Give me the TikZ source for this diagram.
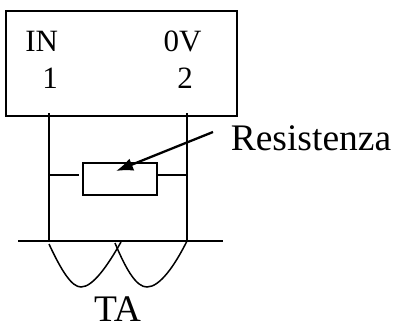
\documentclass[tikz,border=0pt]{standalone}
\usepackage{fontspec}
\setmainfont{Liberation Serif}
\usetikzlibrary{arrows.meta}
\tikzset{
  wire/.style={line width=1.5pt,black},
  curvewire/.style={line width=1.5pt,black},
  boxed/.style={draw=black,line width=1.7pt,inner sep=0pt,outer sep=0pt,minimum width=#1},
  lbl/.style={inner sep=0pt,outer sep=0pt,font=\fontsize{31}{31}\selectfont,anchor=base},
  biglbl/.style={inner sep=0pt,outer sep=0pt,font=\fontsize{37.5}{37.5}\selectfont,anchor=base}
}
\begin{document}
\begin{tikzpicture}[x=1pt,y=-1pt]
\useasboundingbox (0,0) rectangle (393,325);
\node[boxed=231pt,minimum height=105pt] (box) at (121.5,63.5) {};
\node[boxed=74pt,minimum height=32pt] (res) at (120,179) {};
\node[lbl] (in) at (41.7,51) {IN};
\node[lbl] (ov) at (182.5,51) {0V};
\node[lbl] (one) at (50,88) {1};
\node[lbl] (two) at (185,88) {2};
\node[biglbl] (resl) at (311,150) {Resistenza};
\node[biglbl] (ta) at (117.5,321) {TA};
\coordinate (a) at (49,113);
\coordinate (b) at (187,113);
\coordinate (c) at (49,241);
\coordinate (d) at (187,241);
\coordinate (l) at (18,241);
\coordinate (r) at (223,241);
\coordinate (la) at (49,175);
\coordinate (lb) at (79,175);
\coordinate (ra) at (157,175);
\coordinate (rb) at (187,175);
\coordinate (s) at (213,132);
\coordinate (t) at (116,171);
\coordinate (p1) at (49,244);
\coordinate (p2) at (121,242);
\coordinate (q1) at (115,243);
\draw[wire] (a) -- (c);
\draw[wire] (b) -- (d);
\draw[wire] (la) -- (lb);
\draw[wire] (ra) -- (rb);
\draw[line width=1.8pt] (l) -- (r);
\draw[curvewire] (p1) .. controls (62,272) and (72,287) .. (81,287) .. controls (93,287) and (108,265) .. (p2);
\draw[curvewire] (q1) .. controls (127,272) and (137,287) .. (147,287) .. controls (160,287) and (175,265) .. (d);
\draw[line width=2.3pt,-{Latex[length=17pt,width=13pt]}] (s) -- (t);
\end{tikzpicture}
\end{document}
